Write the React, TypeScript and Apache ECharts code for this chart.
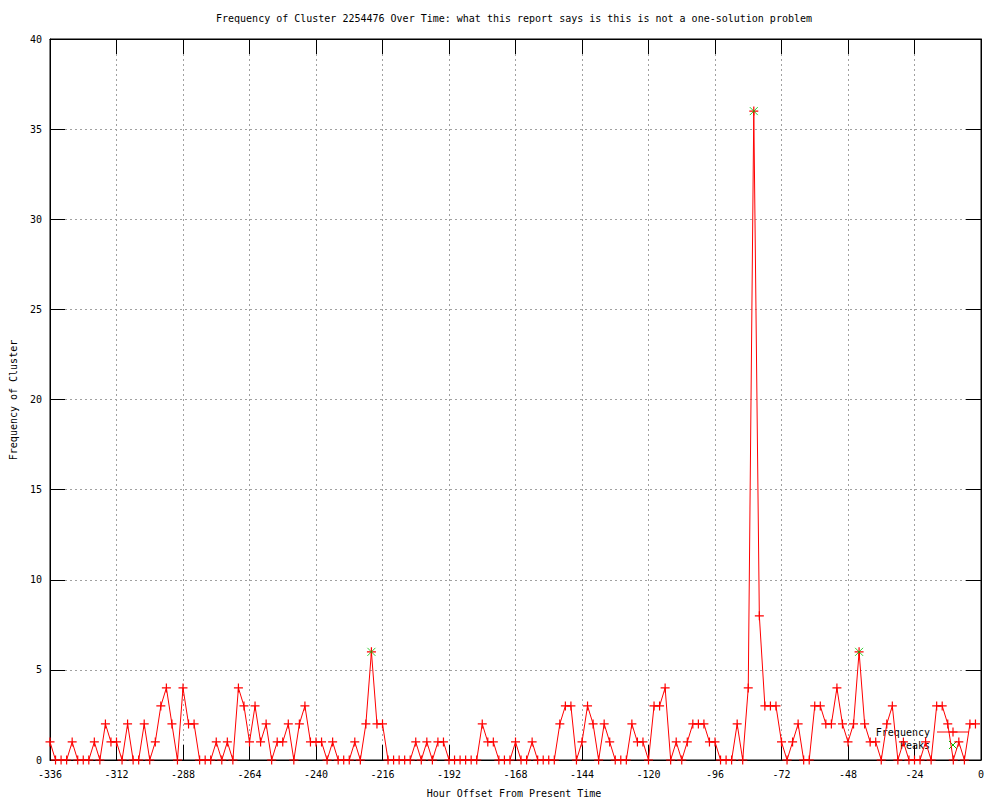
import React, { useEffect, useRef } from "react";
import * as echarts from "echarts";

const hours = [
  -336, -334, -332, -330, -328, -326, -324, -322, -320, -318,
  -316, -314, -312, -310, -308, -306, -304, -302, -300, -298,
  -296, -294, -292, -290, -288, -286, -284, -282, -280, -278,
  -276, -274, -272, -270, -268, -266, -264, -262, -260, -258,
  -256, -254, -252, -250, -248, -246, -244, -242, -240, -238,
  -236, -234, -232, -230, -228, -226, -224, -222, -220, -218,
  -216, -214, -212, -210, -208, -206, -204, -202, -200, -198,
  -196, -194, -192, -190, -188, -186, -184, -182, -180, -178,
  -176, -174, -172, -170, -168, -166, -164, -162, -160, -158,
  -156, -154, -152, -150, -148, -146, -144, -142, -140, -138,
  -136, -134, -132, -130, -128, -126, -124, -122, -120, -118,
  -116, -114, -112, -110, -108, -106, -104, -102, -100, -98,
  -96, -94, -92, -90, -88, -86, -84, -82, -80, -78,
  -76, -74, -72, -70, -68, -66, -64, -62, -60, -58,
  -56, -54, -52, -50, -48, -46, -44, -42, -40, -38,
  -36, -34, -32, -30, -28, -26, -24, -22, -20, -18,
  -16, -14, -12, -10, -8, -6, -4, -2,
];

const frequency = [
  1, 0, 0, 0, 1, 0, 0, 0, 1, 0,
  2, 1, 1, 0, 2, 0, 0, 2, 0, 1,
  3, 4, 2, 0, 4, 2, 2, 0, 0, 0,
  1, 0, 1, 0, 4, 3, 1, 3, 1, 2,
  0, 1, 1, 2, 0, 2, 3, 1, 1, 1,
  0, 1, 0, 0, 0, 1, 0, 2, 6, 2,
  2, 0, 0, 0, 0, 0, 1, 0, 1, 0,
  1, 1, 0, 0, 0, 0, 0, 0, 2, 1,
  1, 0, 0, 0, 1, 0, 0, 1, 0, 0,
  0, 0, 2, 3, 3, 0, 1, 3, 2, 0,
  2, 1, 0, 0, 0, 2, 1, 1, 0, 3,
  3, 4, 0, 1, 0, 1, 2, 2, 2, 1,
  1, 0, 0, 0, 2, 0, 4, 36, 8, 3,
  3, 3, 1, 0, 1, 2, 0, 0, 3, 3,
  2, 2, 4, 2, 1, 2, 6, 2, 1, 1,
  0, 2, 3, 0, 1, 0, 0, 0, 1, 0,
  3, 3, 2, 0, 1, 0, 2, 2,
];

const peakHours = [-220, -82, -44];
const peakValues = [6, 36, 6];

const titleText =
  "Frequency of Cluster 2254476 Over Time: what this report says is this is not a one-solution problem";
const xAxisTitle = "Hour Offset From Present Time";
const yAxisTitle = "Frequency of Cluster";
const legendNames = ["Frequency", "Peaks"];

const FONT = '"DejaVu Sans Mono", "Liberation Mono", monospace';
const FS = 10;
const RED = "#ff0000";
const GREEN = "#00c000";
const PLUS = "path://M5,0 L5,10 M0,5 L10,5";
const CROSS = "path://M0,0 L10,10 M10,0 L0,10";

const mkGrid = () => ({
  show: true,
  lineStyle: { color: "#a0a0a0", type: [2, 3] as any, width: 1 },
});
const mkTick = () => ({
  show: true,
  inside: true,
  length: 15,
  lineStyle: { color: "#000", width: 1 },
});
const mkLine = () => ({
  show: true,
  onZero: false,
  lineStyle: { color: "#000", width: 1 },
});

export default function App() {
  const ref = useRef<HTMLDivElement>(null);

  useEffect(() => {
    if (!ref.current) return;
    const chart = echarts.init(ref.current, undefined, { renderer: "svg" });

    const label = { fontFamily: FONT, fontSize: FS, color: "#000" };

    const freqData = hours.map((h, i) => [h, frequency[i]]);
    const peakData = peakHours.map((h, i) => [h, peakValues[i]]);

    const textStyle = (t: string) => ({
      text: t,
      font: `${FS}px ${FONT}`,
      fill: "#000",
    });

    const lx = 953;
    const ly1 = 732;
    const ly2 = 745;

    chart.setOption({
      animation: false,
      backgroundColor: "#fff",
      grid: {
        left: 50,
        top: 39,
        width: 931,
        height: 721,
        show: true,
        borderColor: "#000",
        borderWidth: 1,
        containLabel: false,
      },
      xAxis: [
        {
          type: "value",
          min: -336,
          max: 0,
          interval: 24,
          position: "bottom",
          axisLine: mkLine(),
          axisTick: mkTick(),
          splitLine: mkGrid(),
          axisLabel: { ...label, margin: 9 },
        },
        {
          type: "value",
          min: -336,
          max: 0,
          interval: 24,
          position: "top",
          axisLine: mkLine(),
          axisTick: mkTick(),
          splitLine: { show: false },
          axisLabel: { show: false },
        },
      ],
      yAxis: [
        {
          type: "value",
          min: 0,
          max: 40,
          interval: 5,
          position: "left",
          axisLine: mkLine(),
          axisTick: mkTick(),
          splitLine: mkGrid(),
          axisLabel: { ...label, margin: 8 },
        },
        {
          type: "value",
          min: 0,
          max: 40,
          interval: 5,
          position: "right",
          axisLine: mkLine(),
          axisTick: mkTick(),
          splitLine: { show: false },
          axisLabel: { show: false },
        },
      ],
      series: [
        {
          name: legendNames[0],
          type: "line",
          xAxisIndex: 0,
          yAxisIndex: 0,
          data: freqData,
          showAllSymbol: true,
          symbol: PLUS,
          symbolSize: 9,
          lineStyle: { color: RED, width: 1 },
          itemStyle: { color: RED, borderColor: RED, borderWidth: 1.2 },
          emphasis: { disabled: true },
          clip: false,
          z: 2,
        },
        {
          name: legendNames[1],
          type: "scatter",
          xAxisIndex: 0,
          yAxisIndex: 0,
          data: peakData,
          symbol: CROSS,
          symbolSize: 8,
          itemStyle: { color: GREEN, borderColor: GREEN, borderWidth: 1 },
          emphasis: { disabled: true },
          z: 3,
        },
      ],
      graphic: [
        {
          type: "text",
          x: 514,
          y: 18,
          style: { ...textStyle(titleText), textAlign: "center", textVerticalAlign: "middle" },
        },
        {
          type: "text",
          x: 514,
          y: 793,
          style: { ...textStyle(xAxisTitle), textAlign: "center", textVerticalAlign: "middle" },
        },
        {
          type: "text",
          x: 13,
          y: 400,
          rotation: Math.PI / 2,
          style: { ...textStyle(yAxisTitle), textAlign: "center", textVerticalAlign: "middle" },
        },
        {
          type: "text",
          x: 930,
          y: ly1,
          style: { ...textStyle(legendNames[0]), textAlign: "right", textVerticalAlign: "middle" },
        },
        {
          type: "text",
          x: 930,
          y: ly2,
          style: { ...textStyle(legendNames[1]), textAlign: "right", textVerticalAlign: "middle" },
        },
        {
          type: "line",
          shape: { x1: 937, y1: ly1, x2: 969, y2: ly1 },
          style: { stroke: RED, lineWidth: 1 },
        },
        {
          type: "line",
          shape: { x1: lx - 4.5, y1: ly1, x2: lx + 4.5, y2: ly1 },
          style: { stroke: RED, lineWidth: 1.2 },
        },
        {
          type: "line",
          shape: { x1: lx, y1: ly1 - 4.5, x2: lx, y2: ly1 + 4.5 },
          style: { stroke: RED, lineWidth: 1.2 },
        },
        {
          type: "line",
          shape: { x1: lx - 4, y1: ly2 - 4, x2: lx + 4, y2: ly2 + 4 },
          style: { stroke: GREEN, lineWidth: 1 },
        },
        {
          type: "line",
          shape: { x1: lx + 4, y1: ly2 - 4, x2: lx - 4, y2: ly2 + 4 },
          style: { stroke: GREEN, lineWidth: 1 },
        },
      ],
    });

    return () => chart.dispose();
  }, []);

  return (
    <div
      ref={ref}
      style={{
        position: "absolute",
        left: 0,
        top: 0,
        width: 1000,
        height: 800,
        background: "#fff",
      }}
    />
  );
}
